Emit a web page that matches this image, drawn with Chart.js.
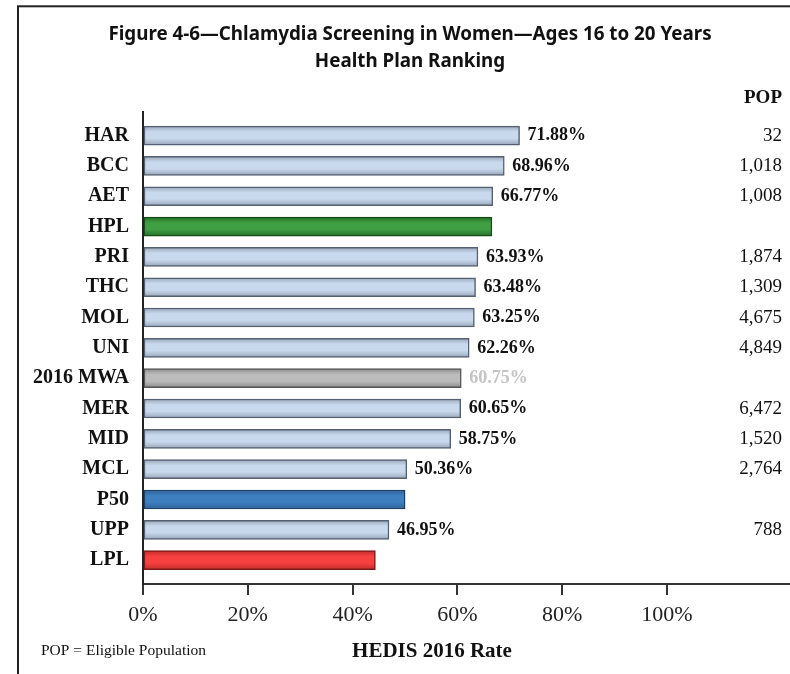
<!DOCTYPE html>
<html>
<head>
<meta charset="utf-8">
<script src="https://cdn.jsdelivr.net/npm/chart.js@4/dist/chart.umd.min.js"></script>
<style>
    html, body { margin: 0; padding: 0; background: #fff; overflow: hidden; }
    #wrap { width: 790px; height: 674px; position: relative; }
</style>
</head>
<body>
<div id="wrap"><canvas id="rank-chart" width="790" height="674"></canvas></div>
<script>
const plans = ['HAR', 'BCC', 'AET', 'HPL', 'PRI', 'THC', 'MOL', 'UNI', '2016 MWA', 'MER', 'MID', 'MCL', 'P50', 'UPP', 'LPL'];
const rates = [71.88, 68.96, 66.77, 66.6, 63.93, 63.48, 63.25, 62.26, 60.75, 60.65, 58.75, 50.36, 50.03, 46.95, 44.36];
const populations = [32, 1018, 1008, null, 1874, 1309, 4675, 4849, null, 6472, 1520, 2764, null, 788, null];
const unlabelledPlans = ['HPL', 'P50', 'LPL'];
const rateTicks = [0, 20, 40, 60, 80, 100];

const serif = '"Liberation Serif", "Times New Roman", serif';

function getColor(plan) {
    if (plan === 'HPL') {
        return { edge: '#24702a', mid: '#3f9f42', border: '#174d17' };
    }
    if (plan === '2016 MWA') {
        return { edge: '#8c8c8c', mid: '#bcbcbc', border: '#555555' };
    }
    if (plan === 'P50') {
        return { edge: '#2c619a', mid: '#3e7fc0', border: '#1d3f66' };
    }
    if (plan === 'LPL') {
        return { edge: '#c42b2b', mid: '#f74040', border: '#7a1a1a' };
    }
    return { edge: '#97a5b8', mid: '#c9d9ed', border: '#556070' };
}

function barFill(context) {
    const chart = context.chart;
    const plan = plans[context.dataIndex];
    const c = getColor(plan);
    if (!chart.chartArea || context.dataIndex === undefined) {
        return c.mid;
    }
    const yc = chart.scales.y.getPixelForValue(context.dataIndex);
    const g = chart.ctx.createLinearGradient(0, yc - 9.5, 0, yc + 9.5);
    g.addColorStop(0, c.edge);
    g.addColorStop(0.3, c.mid);
    g.addColorStop(0.65, c.mid);
    g.addColorStop(1, c.edge);
    return g;
}

// frame, POP column, rate labels and footnotes
const annotations = {
    id: 'annotations',
    beforeDraw(chart) {
        const ctx = chart.ctx;
        ctx.save();
        ctx.strokeStyle = '#222';
        ctx.lineWidth = 2;
        ctx.strokeRect(18, 6.3, 800, 700);
        ctx.restore();
    },
    afterDatasetsDraw(chart) {
        const ctx = chart.ctx;
        const meta = chart.getDatasetMeta(0);
        ctx.save();
        ctx.textBaseline = 'middle';

        ctx.textAlign = 'right';
        ctx.fillStyle = '#111';
        ctx.font = 'bold 19px ' + serif;
        ctx.fillText('POP', 782, 98);

        meta.data.forEach((bar, i) => {
            if (!unlabelledPlans.includes(plans[i])) {
                ctx.textAlign = 'left';
                ctx.font = 'bold 18px ' + serif;
                ctx.fillStyle = plans[i] === '2016 MWA' ? '#c4c4c4' : '#111';
                ctx.fillText(rates[i].toFixed(2) + '%', bar.x + 8, bar.y);
            }
            if (populations[i] !== null) {
                ctx.textAlign = 'right';
                ctx.font = '19px ' + serif;
                ctx.fillStyle = '#111';
                ctx.fillText(populations[i].toLocaleString('en-US'), 782, bar.y);
            }
        });

        ctx.textAlign = 'left';
        ctx.font = '15.5px ' + serif;
        ctx.fillStyle = '#111';
        ctx.fillText('POP = Eligible Population', 41, 651);

        ctx.textAlign = 'center';
        ctx.font = 'bold 21px ' + serif;
        ctx.fillText('HEDIS 2016 Rate', 432, 652);
        ctx.restore();
    }
};

new Chart(document.getElementById('rank-chart').getContext('2d'), {
    type: 'bar',
    data: {
        datasets: [{
            data: rates.map((r, i) => ({ x: r, y: i })),
            backgroundColor: barFill,
            borderColor: plans.map(p => getColor(p).border),
            borderWidth: 1.5,
            borderSkipped: false,
            barThickness: 19
        }]
    },
    options: {
        indexAxis: 'y',
        responsive: false,
        animation: false,
        devicePixelRatio: 1,
        layout: { padding: { left: 30, right: 0, top: 0, bottom: 0 } },
        plugins: {
            legend: { display: false },
            tooltip: { enabled: false },
            title: {
                display: true,
                text: ['Figure 4-6\u2014Chlamydia Screening in Women\u2014Ages 16 to 20 Years', 'Health Plan Ranking'],
                color: '#111',
                font: { family: '"Noto Sans", sans-serif', size: 18.8, weight: 'bold', lineHeight: 1.45 },
                padding: { top: 21, bottom: 36.5 }
            }
        },
        scales: {
            x: {
                type: 'linear',
                min: 0,
                max: 123.5,
                afterBuildTicks: scale => { scale.ticks = rateTicks.map(v => ({ value: v })); },
                afterFit: scale => { scale.height = 90; },
                ticks: {
                    callback: v => v + '%',
                    color: '#222',
                    padding: 7,
                    maxRotation: 0,
                    font: { family: serif, size: 22 }
                },
                grid: { drawOnChartArea: false, drawTicks: true, tickLength: 11, color: '#333', lineWidth: 2 },
                border: { display: true, color: '#333', width: 2 }
            },
            y: {
                type: 'linear',
                reverse: true,
                offset: false,
                min: -0.776,
                max: 14.785,
                afterBuildTicks: scale => { scale.ticks = plans.map((p, i) => ({ value: i })); },
                afterFit: scale => { scale.width = 113; },
                ticks: {
                    callback: v => plans[v],
                    color: '#111',
                    padding: 14,
                    font: { family: serif, size: 20, weight: 'bold' }
                },
                grid: { display: false, drawTicks: false, offset: false },
                border: { display: true, color: '#222', width: 2 }
            }
        }
    },
    plugins: [annotations]
});
</script>
</body>
</html>
